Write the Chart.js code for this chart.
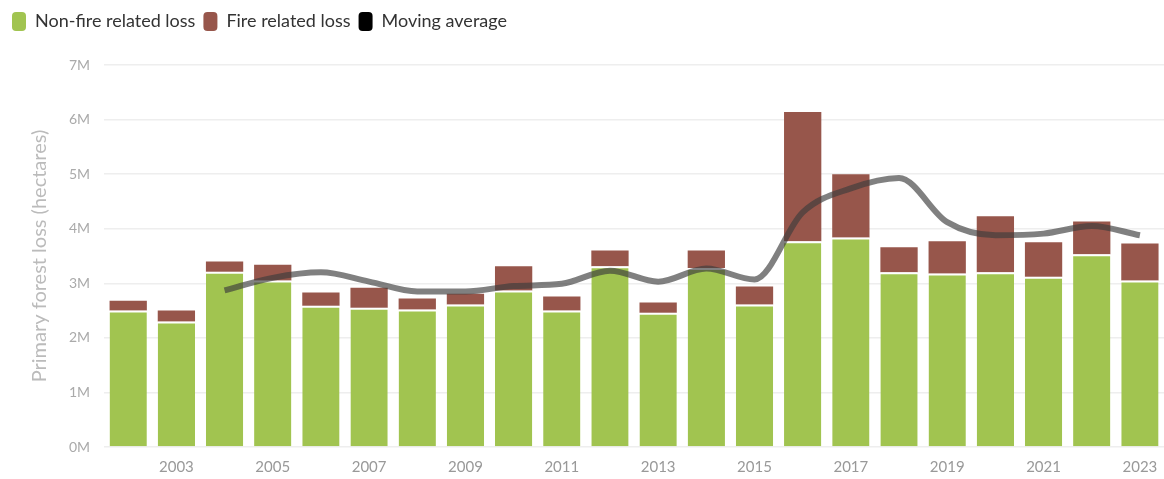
<!DOCTYPE html>
<html>
<head>
<meta charset="utf-8">
<script src="https://cdn.jsdelivr.net/npm/chart.js@4/dist/chart.umd.min.js"></script>
<style>
  body { margin: 0; background: #fff; }
  #wrap { width: 1164px; height: 479px; }
</style>
</head>
<body>
<div id="wrap"><canvas id="myChart"></canvas></div>
<script>
const years = ["2002","2003","2004","2005","2006","2007","2008","2009","2010","2011","2012",
  "2013","2014","2015","2016","2017","2018","2019","2020","2021","2022","2023"];
// values in millions of hectares
const nonFireLoss = [2.50, 2.30, 3.21, 3.05, 2.59, 2.55, 2.52, 2.61, 2.87, 2.50, 3.31,
  2.46, 3.28, 2.61, 3.77, 3.84, 3.20, 3.18, 3.20, 3.12, 3.53, 3.05];
const fireLoss = [0.18, 0.20, 0.19, 0.29, 0.24, 0.37, 0.20, 0.20, 0.44, 0.26, 0.29,
  0.19, 0.32, 0.33, 2.37, 1.16, 0.46, 0.59, 1.03, 0.63, 0.60, 0.68];
const movingAverage = [null, null, 2.87, 3.10, 3.20, 3.03, 2.85, 2.85, 2.95, 2.99, 3.23,
  3.03, 3.27, 3.07, 4.30, 4.74, 4.93, 4.12, 3.88, 3.91, 4.05, 3.88];
const yTicks = ["0M","1M","2M","3M","4M","5M","6M","7M"];

const green = "#a1c450";
const red = "#97564b";

// extra room under the legend
const legendGap = {
  id: "legendGap",
  beforeInit(chart) {
    const fit = chart.legend.fit;
    chart.legend.fit = function () {
      fit.bind(chart.legend)();
      this.height += 24;
    };
  },
};

(() => {
  "use strict";
  const chartEl = document.getElementById("myChart");
  new Chart(chartEl, {
    data: {
      labels: years,
      datasets: [
        {
          type: "bar",
          label: "Non-fire related loss",
          data: nonFireLoss,
          backgroundColor: green,
          borderColor: "#ffffff",
          borderWidth: { top: 2, left: 0, right: 0, bottom: 0 },
          borderSkipped: false,
          stack: "loss",
          order: 2,
          categoryPercentage: 0.86,
          barPercentage: 0.9,
        },
        {
          type: "bar",
          label: "Fire related loss",
          data: fireLoss,
          backgroundColor: red,
          borderWidth: 0,
          stack: "loss",
          order: 2,
          categoryPercentage: 0.86,
          barPercentage: 0.9,
        },
        {
          type: "line",
          label: "Moving average",
          data: movingAverage,
          borderColor: "rgba(60,60,60,0.65)",
          backgroundColor: "#000",
          borderWidth: 6,
          pointRadius: 0,
          tension: 0.4,
          cubicInterpolationMode: "monotone",
          order: 0,
        },
      ],
    },
    plugins: [legendGap],
    options: {
      responsive: true,
      maintainAspectRatio: false,
      animation: false,
      layout: { padding: { left: 4, right: 0, top: 4, bottom: 0 } },
      plugins: {
        legend: {
          align: "start",
          labels: {
            font: { family: "Lato", size: 18 },
            color: "#333",
            boxWidth: 14,
            boxHeight: 19,
            padding: 8,
            useBorderRadius: true,
            borderRadius: 4,
            generateLabels: (chart) => {
              const cols = [green, red, "#000"];
              return chart.data.datasets.map((ds, i) => ({
                text: ds.label,
                fillStyle: cols[i],
                strokeStyle: cols[i],
                lineWidth: 0,
                fontColor: "#333",
                borderRadius: 4,
                datasetIndex: i,
              }));
            },
          },
        },
        tooltip: { enabled: false },
      },
      scales: {
        x: {
          stacked: true,
          grid: { display: false },
          border: { display: false },
          ticks: {
            autoSkip: false,
            maxRotation: 0,
            color: "#999",
            font: { family: "Lato", size: 15 },
            callback: (v, i) => (i % 2 === 1 ? years[i] : ""),
          },
        },
        y: {
          stacked: true,
          min: 0,
          max: 7,
          border: { display: false },
          grid: { color: "#eeeeee", lineWidth: 1.5, drawTicks: false },
          ticks: {
            stepSize: 1,
            padding: 14,
            color: "#aaa",
            font: { family: "Lato", size: 14 },
            callback: (v) => yTicks[v],
          },
          title: {
            display: true,
            text: "Primary forest loss (hectares)",
            color: "#bbb",
            font: { family: "Lato", size: 20 },
            padding: { top: 24, bottom: 3 },
          },
        },
      },
    },
  });
})();
</script>
</body>
</html>
